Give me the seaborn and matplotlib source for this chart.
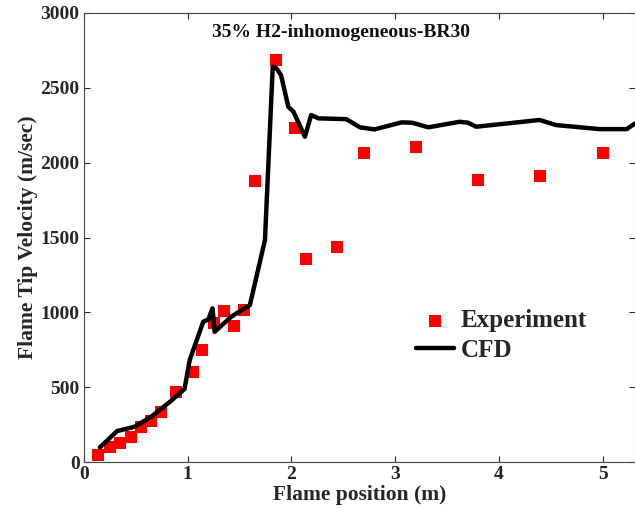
import matplotlib
matplotlib.use('Agg')
import matplotlib.pyplot as plt
import seaborn as sns
import pandas as pd

# experiment points
exp_x = [0.14, 0.25, 0.35, 0.45, 0.55, 0.645, 0.74, 0.89, 1.05, 1.14, 1.25, 1.35,
         1.445, 1.545, 1.65, 1.85, 2.03, 2.14, 2.44, 2.70, 3.20, 3.80, 4.39, 5.0]
exp_y = [45, 98, 129, 169, 232, 276, 332, 470, 603, 748, 931, 1009,
         908, 1015, 1877, 2683, 2229, 1354, 1438, 2062, 2106, 1884, 1910, 2062]

# CFD curve
cfd_x = [0.155, 0.32, 0.49, 0.65, 0.83, 0.97, 1.02, 1.15, 1.20, 1.24, 1.26, 1.42,
         1.60, 1.745, 1.82, 1.855, 1.90, 1.97, 2.02, 2.13, 2.19, 2.26, 2.51, 2.53,
         2.66, 2.80, 3.06, 3.16, 3.32, 3.62, 3.70, 3.78, 4.39, 4.55, 4.97, 5.23, 5.31]
cfd_y = [98, 207, 236, 303, 403, 488, 681, 937, 953, 1027, 870, 971,
         1049, 1483, 2640, 2630, 2585, 2373, 2340, 2173, 2318, 2296, 2291, 2290,
         2236, 2222, 2269, 2267, 2236, 2273, 2267, 2240, 2285, 2251, 2224, 2224, 2262]

serif = ['Liberation Serif', 'DejaVu Serif']


def main():
    sns.set_style('ticks')
    plt.rcParams['font.family'] = serif
    plt.rcParams['font.weight'] = 'bold'

    fig = plt.figure(figsize=(6.35, 5.18), dpi=100)
    ax = fig.add_axes([0.132, 0.108, 0.868, 0.867])

    exp_df = pd.DataFrame({'x': exp_x, 'y': exp_y})
    cfd_df = pd.DataFrame({'x': cfd_x, 'y': cfd_y})

    sns.lineplot(data=cfd_df, x='x', y='y', ax=ax, color='black', linewidth=3.2,
                 estimator=None, sort=False, label='CFD', zorder=3)
    sns.scatterplot(data=exp_df, x='x', y='y', ax=ax, color='#ff0000', marker='s',
                    s=70, linewidth=0, label='Experiment', zorder=2)

    ax.set_xlim(0, 5.31)
    ax.set_ylim(0, 3000)
    ax.set_xticks([0, 1, 2, 3, 4, 5])
    ax.set_yticks([0, 500, 1000, 1500, 2000, 2500, 3000])
    ax.tick_params(direction='in', length=4, width=0.8, labelsize=14, colors='#262626',
                   top=True, right=True, pad=3)
    for lab in ax.get_xticklabels() + ax.get_yticklabels():
        lab.set_fontweight('bold')
    for sp in ax.spines.values():
        sp.set_color('#444444')
        sp.set_linewidth(0.8)

    ax.set_xlabel('Flame position (m)', fontsize=15.5, fontweight='bold', color='#262626', labelpad=1)
    ax.set_ylabel('Flame Tip Velocity (m/sec)', fontsize=15.5, fontweight='bold', color='#262626', labelpad=2)

    ax.text(2.48, 2872, '35% H2-inhomogeneous-BR30', ha='center', va='center',
            fontsize=14, fontweight='bold', color='#111111')

    handles, labels = ax.get_legend_handles_labels()
    order = [labels.index('Experiment'), labels.index('CFD')]
    ax.legend([handles[i] for i in order], [labels[i] for i in order],
              loc='upper left', bbox_to_anchor=(0.562, 0.39), frameon=False,
              prop={'family': serif, 'weight': 'bold', 'size': 18},
              handlelength=1.5, handletextpad=0.3, labelspacing=0.25)

    plt.savefig('out.png', dpi=100)
    plt.close()


if __name__ == '__main__':
    main()
